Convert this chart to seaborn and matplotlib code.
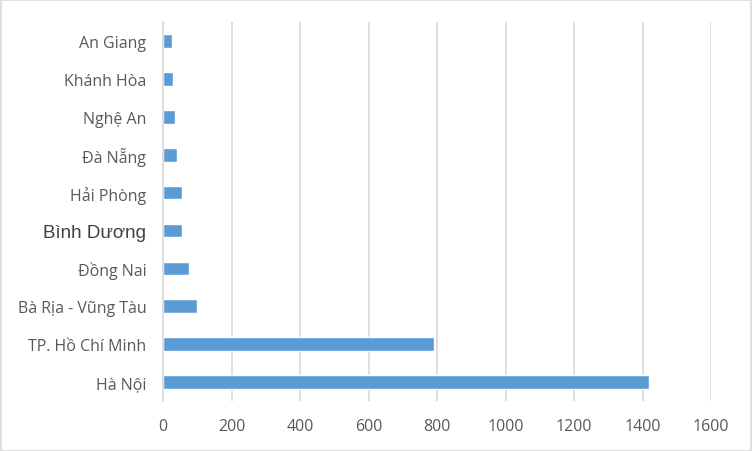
# plot.py
# Horizontal bar chart of Vietnamese provinces (Excel look)

import matplotlib
matplotlib.use("Agg")
import matplotlib.pyplot as plt
import seaborn as sns
import pandas as pd

# --- DATA ---
provinces = ["An Giang", "Khánh Hòa", "Nghệ An", "Đà Nẵng", "Hải Phòng",
             "Bình Dương", "Đồng Nai", "Bà Rịa - Vũng Tàu", "TP. Hồ Chí Minh", "Hà Nội"]
values = [26, 29, 35, 41, 56, 56, 76, 99, 790, 1420]
x_ticks = [0, 200, 400, 600, 800, 1000, 1200, 1400, 1600]

df = pd.DataFrame({"province": provinces, "value": values})

# --- PLOT ---
sns.set_theme(style="white")
plt.rcParams["font.family"] = ["Open Sans", "DejaVu Sans"]

fig = plt.figure(figsize=(7.52, 4.52), dpi=100)
ax = fig.add_axes([0.2168, 0.1106, 0.7287, 0.8384])

sns.barplot(data=df, x="value", y="province", order=provinces, orient="h",
            color="#5B9BD5", saturation=1, width=0.36, ax=ax)

ax.set_xlim(0, 1600)
ax.set_ylim(len(provinces) - 0.5, -0.5)
ax.set_xticks(x_ticks)
ax.set_xticklabels([str(t) for t in x_ticks])
ax.xaxis.grid(True, color="#D9D9D9", linewidth=1.2)
ax.set_axisbelow(True)
for side in ["top", "right", "bottom"]:
    ax.spines[side].set_visible(False)
ax.spines["left"].set_color("#D9D9D9")
ax.spines["left"].set_linewidth(1.2)
ax.tick_params(axis="both", length=0, labelsize=11.5, labelcolor="#595959")
ax.tick_params(axis="x", pad=12)
ax.tick_params(axis="y", pad=12)
ax.set_xlabel("")
ax.set_ylabel("")

# the one label in the source uses a different font
for lbl in ax.get_yticklabels():
    if lbl.get_text() == "Bình Dương":
        lbl.set_family(["Liberation Sans", "DejaVu Sans"])
        lbl.set_fontsize(13.5)
        lbl.set_color("#404040")

# chart border
fig.patches.append(plt.Rectangle((0.001, 0.001), 0.998, 0.997, transform=fig.transFigure,
                                 fill=False, edgecolor="#D9D9D9", linewidth=1.2))

plt.savefig("out.png", dpi=100)
